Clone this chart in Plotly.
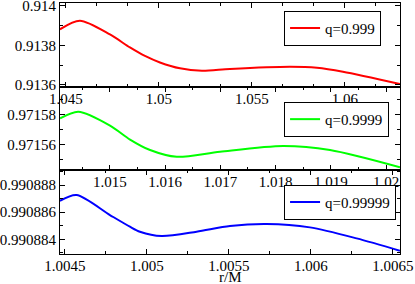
import plotly.graph_objects as go
from plotly.subplots import make_subplots

# ---- data ----
r_q999 = [1.044677, 1.045753, 1.047366, 1.048441, 1.049247, 1.050054, 1.051129, 1.052312,
          1.053817, 1.057043, 1.058495, 1.059892, 1.062957]
v_q999 = [0.913881, 0.913924, 0.9138547, 0.9137892, 0.9137463, 0.9137135, 0.913684, 0.913672,
          0.913681, 0.913692, 0.913687, 0.913667, 0.913605]

r_q9999 = [1.014101, 1.014432, 1.015005, 1.015367, 1.015729, 1.016212, 1.016995,
           1.018139, 1.018984, 1.020250]
v_q9999 = [0.9715773, 0.9715817, 0.9715725, 0.9715632, 0.9715562, 0.9715517,
           0.9715551, 0.9715589, 0.9715562, 0.9715447]

r_q99999 = [1.0044695, 1.0045713, 1.0047744, 1.0048963, 1.0049573, 1.0050896,
            1.0053030, 1.0055061, 1.0057299, 1.0059939, 1.0062787, 1.0065427]
v_q99999 = [0.99088684, 0.99088726, 0.99088579, 0.99088493, 0.99088456, 0.99088424,
            0.99088456, 0.99088498, 0.99088513, 0.99088488, 0.99088407, 0.99088316]

names = ["q=0.999", "q=0.9999", "q=0.99999"]
colors = ["#ff0000", "#00ff00", "#0000ff"]

x1_ticks = [1.045, 1.05, 1.055, 1.06]
x1_text = ["1.045", "1.05", "1.055", "1.06"]
y1_ticks = [0.9136, 0.9138, 0.914]
y1_text = ["0.9136", "0.9138", "0.914"]

x2_ticks = [1.015, 1.016, 1.017, 1.018, 1.019, 1.02]
x2_text = ["1.015", "1.016", "1.017", "1.018", "1.019", "1.02"]
y2_ticks = [0.97156, 0.97158]
y2_text = ["0.97156", "0.97158"]

x3_ticks = [1.0045, 1.005, 1.0055, 1.006, 1.0065]
x3_text = ["1.0045", "1.005", "1.0055", "1.006", "1.0065"]
y3_ticks = [0.990884, 0.990886, 0.990888]
y3_text = ["0.990884", "0.990886", "0.990888"]

x_label = "r/M"

FONT = "Liberation Serif, Times New Roman, serif"

fig = make_subplots(rows=3, cols=1, vertical_spacing=0, shared_xaxes=False)

series = [(r_q999, v_q999), (r_q9999, v_q9999), (r_q99999, v_q99999)]
legends = ["legend", "legend2", "legend3"]
for i, (rr, vv) in enumerate(series):
    fig.add_trace(go.Scatter(x=rr, y=vv, mode="lines", name=names[i],
                             line=dict(color=colors[i], width=2, shape="spline", smoothing=0.8),
                             legend=legends[i], showlegend=True),
                  row=i + 1, col=1)

axis_common = dict(showline=True, linecolor="black", linewidth=1, mirror="allticks",
                   ticks="inside", ticklen=5, tickcolor="black", tickwidth=1,
                   showgrid=False, zeroline=False, automargin=False,
                   ticklabeloverflow="allow",
                   tickfont=dict(family=FONT, size=15, color="black"))

xcfg = [
    (x1_ticks, x1_text, [1.04468, 1.06296], 0.005 / 3, 1.045),
    (x2_ticks, x2_text, [1.0141, 1.02025], 0.0005, 1.015),
    (x3_ticks, x3_text, [1.00447, 1.006543], 0.00025, 1.0045),
]
ycfg = [
    (y1_ticks, y1_text, [0.9135914, 0.9140136], 0.0001, 0.9136),
    (y2_ticks, y2_text, [0.9715427, 0.9715984], 0.00001, 0.97156),
    (y3_ticks, y3_text, [0.99088292, 0.99088908], 0.000001, 0.990884),
]
for i in range(3):
    tv, tt, rng, mdt, t0 = xcfg[i]
    fig.update_xaxes(row=i + 1, col=1, range=rng, tickmode="array", tickvals=tv, ticktext=tt,
                     ticklabelstandoff=-2,
                     minor=dict(ticks="inside", ticklen=3, tickcolor="black", dtick=mdt, tick0=t0),
                     **axis_common)
    tv, tt, rng, mdt, t0 = ycfg[i]
    fig.update_yaxes(row=i + 1, col=1, range=rng, tickmode="array", tickvals=tv, ticktext=tt,
                     minor=dict(ticks="inside", ticklen=3, tickcolor="black", dtick=mdt, tick0=t0),
                     **axis_common)

fig.add_annotation(text=x_label, xref="paper", yref="paper", x=0.5, y=-0.092,
                   xanchor="center", yanchor="middle", showarrow=False,
                   font=dict(family=FONT, size=15, color="black"))

leg_common = dict(x=0.659, xanchor="left", yanchor="top", bgcolor="white",
                  bordercolor="black", borderwidth=1,
                  font=dict(family=FONT, size=15, color="black"),
                  itemwidth=30, tracegroupgap=0)
fig.update_layout(
    width=415, height=284,
    margin=dict(l=60, r=15, t=3, b=30),
    paper_bgcolor="white", plot_bgcolor="white",
    legend=dict(y=0.969, **leg_common),
    legend2=dict(y=0.606, **leg_common),
    legend3=dict(y=0.276, **leg_common),
)

fig.write_html("out.html", config={"displayModeBar": False},
               post_script="document.body.style.margin='0';document.body.style.padding='0';")
